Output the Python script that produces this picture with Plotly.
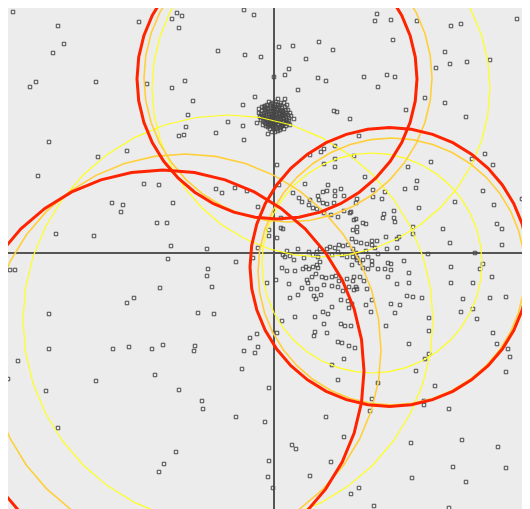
import numpy as np
import plotly.graph_objects as go

# ---- circles (centre x, centre y, radius) in data units ----
red_cx = [3, 115.5, -111]
red_cy = [174, -14, -118]
red_r = [140, 139.5, 201]

gold_cx = [14, 117.5, -89]
gold_cy = [175, -18.5, -97]
gold_r = [144, 133.5, 196]

yellow_cx = [47, 98, -46]
yellow_cy = [165, -10, -67]
yellow_r = [169, 110, 205]

# ---- scattered observations ----
pts_upper_left = [(-261,241),(-216,227),(-210,209),(-221,200),(-238,171),(-244,166),(-178,171),(-135,231),
    (-102,234),(-97,240),(-95,225),(-127,169),(-102,165),(-225,111),(-176,96),(-147,102),(-95,117)]

pts_upper_mid = [(-30,243),(-20,238),(-92,237),(-56,202),(-29,198),(-13,196),(5,206),(19,207),(45,211),
    (59,203),(32,194),(15,184),(11,178),(0,176),(44,175),(52,172),(24,163),(-89,172),(-81,152),(-19,156),
    (-31,148),(-86,138),(-46,131),(-88,126),(-31,127),(-58,120),(-90,118),(-30,113),(60,142),(63,141),
    (76,134),(85,117),(61,107),(50,104),(47,101),(36,98),(80,97),(61,94),(50,89),(61,86),(3,88)]

pts_cluster = [(-5,151),(4,154),(11,154),(13,148),(16,140),(20,134),(16,128),(10,124),(6,123),(1,121),
    (-6,119),(-14,136),(-17,130),(-12,146),(-15,144),(-8,145),(-4,147),(0,146),(4,148),(8,145),(12,143),
    (-10,140),(-6,141),(-2,142),(2,141),(6,142),(10,140),(14,138),(-11,135),(-7,136),(-3,137),(1,136),
    (5,137),(9,135),(13,133),(-9,130),(-5,131),(-1,132),(3,131),(7,130),(11,129),(-6,126),(-2,127),
    (2,126),(6,125),(0,139),(-4,133),(4,134),(8,138),(-8,138),(10,132),(-3,129),(3,144),(-1,150),
    (7,150),(-13,139),(15,135),
    (-9,143),(-6,144),(-3,145),(1,144),(5,146),(9,142),(12,140),(-12,137),(-9,134),(-6,133),(-3,134),
    (0,134),(3,136),(6,134),(9,137),(12,136),(-11,132),(-8,127),(-4,128),(0,128),(4,128),(8,127),
    (12,131),(-2,139),(2,138),(6,139),(-5,139),(-1,144),(7,143),(11,146),(-7,148),(1,149),(-10,146),
    (-13,133),(-4,124),(0,124),(4,122),(14,130),(17,137),(-15,140),(-2,135),(5,132),(9,128),(-7,129),
    (-8,141),(-4,142),(0,141),(4,143),(8,141),(11,138),(-10,137),(-5,136),(-1,137),(3,139),(7,136),
    (10,134),(-7,132),(-3,131),(1,130),(5,129),(9,131),(-5,128),(-1,126),(3,124),(7,126),(-9,147),
    (-3,149),(2,151),(6,148),(10,150),(-12,142),(14,143),(15,132),(12,127),(-11,128),(-2,121)]

pts_upper_right = [(103,239),(101,232),(117,233),(143,232),(119,213),(177,227),(187,229),(243,234),
    (171,201),(176,189),(193,191),(216,193),(162,185),(251,172),(90,176),(113,178),(121,176),(104,166),
    (151,155),(171,150),(132,143),(192,136),(157,91),(134,86),(211,99),(198,94),(219,88)]

pts_mid_left = [(-236,77),(-130,69),(-115,68),(-162,50),(-151,48),(-153,41),(-101,50),(-117,30),
    (-107,30),(-218,19),(-180,17),(-103,7),(-264,-17),(-259,-17),(-106,-6),(-114,-35),(-140,-45),
    (-147,-50),(-225,-61)]

pts_centre = [(-58,64),(-52,60),(-39,65),(-27,62),(5,68),(31,69),(54,68),(19,60),(25,55),(28,51),
    (36,53),(35,48),(49,61),(53,62),(61,62),(67,64),(61,57),(70,57),(44,57),(45,53),(49,50),(53,49),
    (60,50),(39,45),(43,44),(50,40),(57,38),(64,36),(70,42),(77,41),(82,34),(-16,46),(-5,23),(-5,17),
    (7,35),(7,25),(9,24),(3,15),(-16,5),(-67,4),(-38,-9),(-21,-5),(13,2),(24,4),(9,-2),(11,-4),(16,-3),
    (20,-7),(30,-5),(35,1),(39,-2),(43,1),(46,4),(53,4),(56,6),(61,5),(65,8),(69,7),(74,8),(79,4),
    (82,0),(64,1),(58,-2),(68,-2),(73,-4),(79,-4),(83,-7),(44,-4),(46,-9),(43,-12),(39,-14),(44,-15),
    (32,-14),(29,-16),(35,-16),(8,-15),(13,-18),(21,-18),(38,-24),(42,-21),(48,-24),(52,-25),(58,-24),
    (62,-23),(65,-28),(73,-26),(79,-28),(33,-27),(34,-30),(28,-35),(37,-36),(43,-36),(50,-32),(58,-33),
    (64,-34),(75,-34),(80,-37),(69,-38),(-66,-16),(-67,-23),(-62,-34),(2,-27),(-7,-30),(15,-31),
    (24,-42),(16,-45),(40,-43),(47,-42),(42,-46),(67,-47),(74,-48),(78,-51),(58,-54),(49,-59),(54,-61),
    (75,-55),(21,-64),(41,-64),(8,-68),(50,-71),(67,-71),(71,-73),(77,-73),(53,-80),(41,-79),(40,-83),
    (-76,-60),(-60,-61),(-24,-85),(-17,-81),(3,-80)]

pts_mid_right = [(91,76),(143,72),(131,64),(142,65),(99,63),(111,61),(99,56),(108,54),(209,62),(248,54),
    (220,48),(181,51),(83,54),(82,50),(76,40),(145,45),(120,42),(110,39),(120,35),(109,35),(121,31),
    (80,33),(89,30),(92,29),(83,26),(79,23),(83,21),(139,26),(139,19),(169,24),(223,29),(228,24),
    (112,16),(125,16),(123,14),(78,14),(82,11),(87,10),(93,9),(98,12),(103,12),(98,8),(101,5),(123,5),
    (113,4),(176,10),(228,8),(92,2),(104,-1),(154,-1),(201,0),(83,-5),(89,-7),(94,-4),(98,-8),(78,-12),
    (86,-10),(98,-12),(89,-15),(94,-16),(104,-16),(111,-16),(114,-10),(117,-11),(117,-17),(130,-8),
    (135,-20),(177,-14),(209,-11),(206,-16),(80,-24),(86,-24),(90,-28),(114,-24),(135,-30),(177,-30),
    (199,-30),(218,-24),(123,-31),(82,-34),(83,-36),(93,-36),(133,-43),(139,-44),(148,-45),(189,-46),
    (216,-45),(232,-44),(98,-47),(92,-52),(117,-51),(126,-52),(97,-59),(121,-60),(187,-59),(199,-56),
    (155,-65),(203,-66),(112,-73),(155,-78),(219,-80)]

pts_lower_left = [(-225,-96),(-161,-96),(-145,-94),(-122,-96),(-111,-92),(-256,-108),(-266,-126),
    (-178,-128),(-119,-122),(-228,-138),(-95,-137),(-216,-175),(-98,-199),(-110,-211),(-115,-219)]

pts_lower_mid = [(-79,-93),(-80,-98),(-30,-98),(-16,-94),(-19,-100),(-32,-116),(-72,-148),(-71,-156),
    (-38,-164),(-5,-135),(-9,-169),(64,-89),(68,-90),(75,-93),(81,-95),(70,-106),(58,-112),(64,-127),
    (52,-164),(70,-184),(18,-192),(22,-196),(57,-209),(-5,-208),(-6,-224),(36,-223),(-1,-235),
    (77,-241),(85,-235)]

pts_lower_right = [(135,-91),(223,-91),(234,-96),(236,-104),(232,-119),(155,-101),(151,-106),
    (142,-118),(104,-130),(161,-133),(98,-146),(96,-158),(150,-148),(150,-152),(175,-156),(137,-190),
    (188,-187),(224,-194),(179,-214),(232,-215),(138,-225),(192,-229),(100,-253),(175,-255)]

all_pts = (pts_upper_left + pts_upper_mid + pts_cluster + pts_upper_right + pts_mid_left +
           pts_centre + pts_mid_right + pts_lower_left + pts_lower_mid + pts_lower_right)
px = [p[0] for p in all_pts]
py = [p[1] for p in all_pts]

fig = go.Figure()
fig.add_trace(go.Scatter(
    x=px, y=py, mode="markers",
    marker=dict(symbol="square-open", size=3.5, color="#474747", line=dict(width=1, color="#474747")),
    hoverinfo="skip"))

theta = np.linspace(0, 2 * np.pi, 41)

def add_circles(cxs, cys, rs, color, width):
    for cx, cy, r in zip(cxs, cys, rs):
        fig.add_trace(go.Scatter(
            x=cx + r * np.cos(theta), y=cy + r * np.sin(theta), mode="lines",
            line=dict(color=color, width=width), hoverinfo="skip"))

add_circles(yellow_cx, yellow_cy, yellow_r, "#ffff1a", 1.2)
add_circles(gold_cx, gold_cy, gold_r, "#ffcf3a", 1.6)
add_circles(red_cx, red_cy, red_r, "#ff2400", 3)

axis_common = dict(showgrid=False, showticklabels=False, ticks="", showline=False,
                   zeroline=True, zerolinecolor="#555555", zerolinewidth=1.5)
fig.update_layout(
    width=522, height=501,
    margin=dict(l=0, r=0, t=0, b=0),
    plot_bgcolor="#ececec", paper_bgcolor="#ececec",
    showlegend=False,
    xaxis=dict(range=[-266, 256], **axis_common),
    yaxis=dict(range=[-256, 245], **axis_common),
)
fig.write_html("out.html")
